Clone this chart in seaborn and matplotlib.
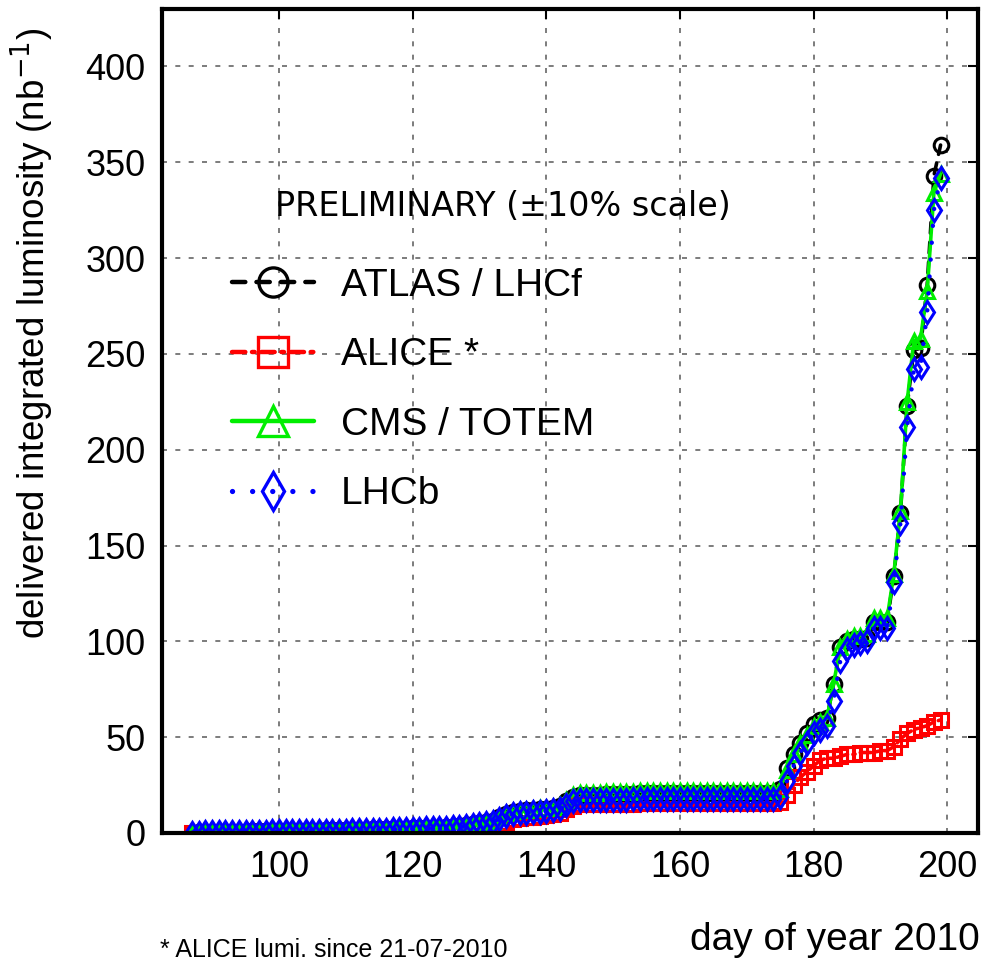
import matplotlib
matplotlib.use("Agg")
import matplotlib.pyplot as plt
import seaborn as sns
import pandas as pd
from matplotlib.lines import Line2D

days = [87, 88, 89, 90, 91, 92, 93, 94, 95, 96, 97, 98, 99,
        100, 101, 102, 103, 104, 105, 106, 107, 108, 109,
        110, 111, 112, 113, 114, 115, 116, 117, 118, 119,
        120, 121, 122, 123, 124, 125, 126, 127, 128, 129,
        130, 131, 132, 133, 134, 135, 136, 137, 138, 139,
        140, 141, 142, 143, 144, 145, 146, 147, 148, 149,
        150, 151, 152, 153, 154, 155, 156, 157, 158, 159,
        160, 161, 162, 163, 164, 165, 166, 167, 168, 169,
        170, 171, 172, 173, 174, 175, 176, 177, 178, 179,
        180, 181, 182, 183, 184, 185, 186, 187, 188, 189,
        190, 191, 192, 193, 194, 195, 196, 197, 198, 199]

atlas = [0.2, 0.3, 0.3, 0.4, 0.5, 0.5, 0.6, 0.7, 0.7, 0.8, 0.9, 0.9, 1.0,
         1.0, 1.1, 1.1, 1.2, 1.2, 1.3, 1.3, 1.4, 1.4, 1.5,
         1.5, 1.6, 1.7, 1.8, 1.9, 2.0, 2.0, 2.1, 2.2, 2.3,
         2.4, 2.5, 2.6, 2.7, 2.8, 3.0, 3.2, 3.5, 4.0, 4.5,
         5.0, 5.5, 6.5, 8.5, 10.0, 11.0, 11.5, 11.8, 12.0, 12.3,
         12.7, 13.2, 14.0, 16.5, 19.0, 20.0, 20.0, 20.0, 20.0, 20.2,
         20.2, 20.3, 20.3, 20.5, 20.8, 21.0, 21.0, 21.0, 21.0, 21.0,
         21.0, 21.0, 21.0, 21.0, 21.0, 21.0, 21.0, 21.0, 21.0, 21.0,
         21.0, 21.0, 21.0, 21.0, 21.0, 23.0, 34.0, 41.0, 47.0, 52.0,
         57.0, 59.0, 60.0, 78.0, 97.0, 100.0, 101.0, 101.0, 102.0, 110.0,
         110.0, 110.0, 134.0, 167.0, 223.0, 252.0, 253.0, 286.0, 343.0, 359.0]

alice = [0.1, 0.2, 0.2, 0.3, 0.3, 0.4, 0.4, 0.5, 0.5, 0.6, 0.6, 0.7, 0.7,
         0.8, 0.8, 0.9, 0.9, 1.0, 1.0, 1.1, 1.1, 1.2, 1.2,
         1.3, 1.3, 1.4, 1.5, 1.5, 1.6, 1.7, 1.7, 1.8, 1.9,
         2.0, 2.0, 2.1, 2.2, 2.3, 2.4, 2.5, 2.7, 3.0, 3.3,
         3.6, 4.0, 4.5, 5.0, 6.0, 7.5, 8.0, 8.3, 8.6, 9.0,
         9.3, 9.7, 10.5, 12.5, 14.0, 15.0, 15.0, 15.0, 15.0, 15.1,
         15.1, 15.2, 15.2, 15.3, 15.5, 15.7, 15.7, 15.7, 15.7, 15.7,
         15.7, 15.7, 15.7, 15.7, 15.7, 15.7, 15.7, 15.7, 15.7, 15.7,
         15.7, 15.7, 15.7, 15.7, 15.7, 16.0, 20.0, 25.0, 29.0, 32.0,
         35.0, 38.0, 39.0, 39.0, 40.0, 41.0, 41.0, 42.0, 42.0, 42.0,
         43.0, 43.0, 45.0, 49.0, 52.0, 54.0, 55.0, 56.0, 58.0, 59.0]

cms = [0.2, 0.3, 0.3, 0.4, 0.5, 0.5, 0.6, 0.7, 0.7, 0.8, 0.9, 0.9, 1.0,
       1.0, 1.1, 1.1, 1.2, 1.2, 1.3, 1.3, 1.4, 1.4, 1.5,
       1.5, 1.6, 1.7, 1.8, 1.9, 2.0, 2.0, 2.1, 2.2, 2.3,
       2.4, 2.5, 2.6, 2.7, 2.8, 3.0, 3.2, 3.5, 4.0, 4.5,
       5.0, 5.5, 6.5, 8.5, 10.5, 11.5, 12.0, 12.2, 12.5, 12.8,
       13.2, 13.8, 14.5, 17.0, 20.0, 21.0, 21.0, 21.0, 21.0, 21.2,
       21.2, 21.3, 21.3, 21.5, 21.8, 22.0, 22.0, 22.0, 22.0, 22.0,
       22.0, 22.0, 22.0, 22.0, 22.0, 22.0, 22.0, 22.0, 22.0, 22.0,
       22.0, 22.0, 22.0, 22.0, 22.0, 23.0, 33.0, 41.0, 47.0, 51.0,
       56.0, 58.0, 60.0, 78.0, 97.0, 101.0, 103.0, 103.0, 104.0, 112.0,
       112.0, 112.0, 135.0, 168.0, 225.0, 257.0, 258.0, 283.0, 334.0, 344.0]

lhcb = [0.2, 0.2, 0.3, 0.3, 0.4, 0.4, 0.5, 0.5, 0.6, 0.6, 0.7, 0.7, 0.8,
        0.8, 0.9, 0.9, 1.0, 1.0, 1.1, 1.1, 1.2, 1.2, 1.3,
        1.3, 1.4, 1.5, 1.6, 1.7, 1.8, 1.8, 1.9, 2.0, 2.1,
        2.2, 2.3, 2.4, 2.5, 2.6, 2.7, 2.9, 3.1, 3.5, 4.0,
        4.5, 5.0, 5.8, 7.5, 9.0, 9.8, 10.2, 10.5, 10.8, 11.0,
        11.3, 11.8, 12.5, 14.5, 16.5, 17.0, 17.0, 17.0, 17.0, 17.2,
        17.2, 17.3, 17.3, 17.5, 17.7, 18.0, 18.0, 18.0, 18.0, 18.0,
        18.0, 18.0, 18.0, 18.0, 18.0, 18.0, 18.0, 18.0, 18.0, 18.0,
        18.0, 18.0, 18.0, 18.0, 18.0, 19.0, 27.0, 35.0, 42.0, 47.0,
        52.0, 54.0, 56.0, 69.0, 90.0, 96.0, 98.0, 99.0, 100.0, 107.0,
        107.0, 107.0, 131.0, 162.0, 212.0, 242.0, 243.0, 272.0, 325.0, 342.0]

labels = ["ATLAS / LHCf", "ALICE *", "CMS / TOTEM", "LHCb"]
x_ticks = [100, 120, 140, 160, 180, 200]
y_ticks = [0, 50, 100, 150, 200, 250, 300, 350, 400]

sns.set_style("white")
plt.rcParams['font.family'] = ['Liberation Sans', 'DejaVu Sans']
for k in ["text.color", "axes.labelcolor", "xtick.color", "ytick.color"]:
    plt.rcParams[k] = "black"

fig = plt.figure(figsize=(9.84, 9.65), dpi=100)
ax = fig.add_axes([162/984, 1 - 833/965, (978-162)/984, (833-9)/965])

series = [
    (labels[0], atlas, "black", "o", 10.5, 21, 2.6, (0, (3, 2.5))),
    (labels[1], alice, "red", "s", 10.5, 21, 2.6, (0, (3, 1.5, 0.6, 1.5))),
    (labels[2], cms, "#00ee00", "^", 10.5, 21, 2.6, "-"),
    (labels[3], lhcb, "blue", "d", 11.5, 19, 3.2, (0, (0.01, 3.8))),
]

handles = []
for name, vals, col, mk, msz, lmsz, lw, ls in series:
    df = pd.DataFrame({"day": days, "lumi": vals})
    sns.lineplot(data=df, x="day", y="lumi", ax=ax, color=col, marker=mk,
                 markersize=msz, markerfacecolor="none", markeredgecolor=col,
                 markeredgewidth=2.2, linewidth=lw, linestyle=ls,
                 dash_capstyle="round", solid_capstyle="round", clip_on=True)
    handles.append(Line2D([], [], color=col, marker=mk, markersize=lmsz,
                          markerfacecolor="none", markeredgecolor=col,
                          markeredgewidth=2.4, linewidth=lw + 0.6, linestyle=ls,
                          dash_capstyle="round"))

ax.set_xlim(82.5, 204.6)
ax.set_ylim(0, 430)
ax.set_xticks(x_ticks)
ax.set_yticks(y_ticks)
ax.tick_params(axis="both", direction="in", length=7, width=1.5,
               top=True, right=True, labelsize=26, pad=12)
ax.grid(True, color="#666666", linestyle=(0, (3, 5)), linewidth=1.2)
for sp in ax.spines.values():
    sp.set_linewidth(3)
    sp.set_color("black")

ax.set_xlabel("")
ax.set_ylabel("delivered integrated luminosity (nb$^{-1}$)", fontsize=26.5)
ax.yaxis.set_label_coords((56 - 162) / 816, (833 - 333) / 824)
fig.text(980/984, 1 - 940/965, "day of year 2010", ha="right", va="center", fontsize=28)
fig.text(160/984, 1 - 950/965, "* ALICE lumi. since 21-07-2010", ha="left", va="center", fontsize=18)

fig.text(275/984, 1 - 207/965, "PRELIMINARY (\u00b110% scale)", ha="left", va="center",
         fontsize=24, family=["DejaVu Sans"])

leg = ax.legend(handles, labels, loc="upper left",
                bbox_to_anchor=(232/984, 1 - 268/965), bbox_transform=fig.transFigure,
                frameon=False, fontsize=28, handlelength=2.1, handletextpad=0.7,
                labelspacing=0.86, borderpad=0, borderaxespad=0)

fig.savefig("out.png", dpi=100)
